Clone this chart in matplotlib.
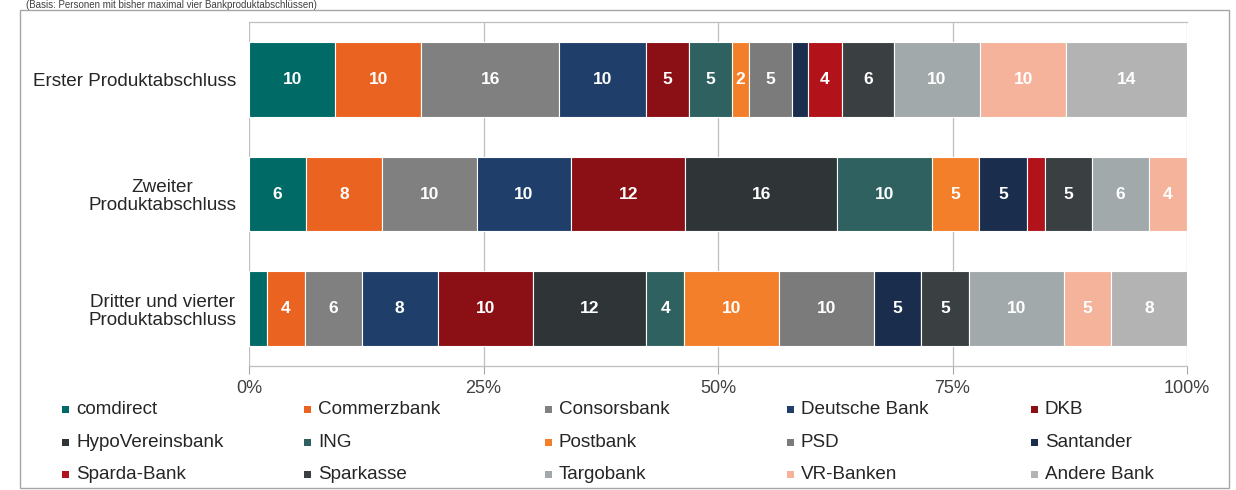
import matplotlib
matplotlib.use("Agg")
import matplotlib.pyplot as plt
from matplotlib.patches import Rectangle
import numpy as np

plt.rcParams['font.family'] = ['Liberation Sans', 'DejaVu Sans']

categories = ["Erster Produktabschluss", "Zweiter\nProduktabschluss",
              "Dritter und vierter\nProduktabschluss"]
banks = ["comdirect", "Commerzbank", "Consorsbank", "Deutsche Bank", "DKB",
         "HypoVereinsbank", "ING", "Postbank", "PSD", "Santander",
         "Sparda-Bank", "Sparkasse", "Targobank", "VR-Banken", "Andere Bank"]
erster = [10, 10, 16, 10, 5, 0, 5, 2, 5, 1.8, 4, 6, 10, 10, 14]
zweiter = [6, 8, 10, 10, 12, 16, 10, 5, 0, 5, 1.9, 5, 6, 4, 0]
dritter = [1.9, 4, 6, 8, 10, 12, 4, 10, 10, 5, 0, 5, 10, 5, 8]
xticks = [0, 25, 50, 75, 100]
xtick_labels = ["0%", "25%", "50%", "75%", "100%"]
header = "(Basis: Personen mit bisher maximal vier Bankproduktabschlüssen)"

colors = ["#006A66", "#EB6320", "#808080", "#1F3F6A", "#8A1016",
          "#2F3437", "#2E615F", "#F47F2A", "#7B7B7B", "#1A2D4C",
          "#B2121A", "#3A4042", "#A2A9AB", "#F5B39B", "#B3B3B3"]

W, H = 1236, 490
fig = plt.figure(figsize=(W / 100, H / 100), dpi=100)

def fx(px):
    return px / W

def fy(py):
    return 1 - py / H

ax = fig.add_axes([fx(249), fy(366), fx(938), (366 - 22) / H])

data = np.array([erster, zweiter, dritter], dtype=float)
shares = data / data.sum(axis=1, keepdims=True) * 100
ypos = np.arange(len(categories))
left = np.zeros(len(categories))
for j, bank in enumerate(banks):
    vals = shares[:, j]
    cont = ax.barh(ypos, vals, left=left, height=0.65, color=colors[j],
                   edgecolor="white", linewidth=0.8, zorder=3, label=bank)
    labels = [f"{v:g}" if v >= 2 else "" for v in data[:, j]]
    ax.bar_label(cont, labels=labels, label_type="center", color="white",
                 fontsize=12.5, fontweight="bold", zorder=4)
    left += vals

ax.set_xlim(0, 100)
ax.set_ylim(2.5, -0.5)
ax.set_xticks(xticks)
ax.set_xticklabels(xtick_labels, fontsize=13, color="#404040")
ax.set_yticks(ypos)
ax.set_yticklabels(categories, fontsize=13.6, color="#262626",
                   multialignment="center", linespacing=1.1)
ax.tick_params(axis="y", length=0, pad=9)
ax.tick_params(axis="x", length=6, width=0.8, color="#A6A6A6", pad=4)
ax.grid(axis="x", color="#BFBFBF", linewidth=0.9, zorder=0)
for s in ["left", "right"]:
    ax.spines[s].set_visible(False)
for s in ["top", "bottom"]:
    ax.spines[s].set_color("#BFBFBF")
    ax.spines[s].set_linewidth(0.9)

# legend (row-wise, 5 columns)
col_x = [65, 307, 548, 790, 1034]
row_y = [409, 442, 474]
for i, bank in enumerate(banks):
    r, c = divmod(i, 5)
    x0, y0 = col_x[c], row_y[r]
    fig.add_artist(Rectangle((fx(x0 - 3.5), fy(y0 + 3.5)), 7 / W, 7 / H,
                             transform=fig.transFigure, color=colors[i],
                             linewidth=0))
    fig.text(fx(x0 + 11), fy(y0), bank, fontsize=13.6, color="#262626",
             va="center", ha="left")

# outer frame
fig.add_artist(Rectangle((fx(20), fy(488)), (1229 - 20) / W, (488 - 10) / H,
                         transform=fig.transFigure, fill=False,
                         edgecolor="#A6A6A6", linewidth=1))
fig.text(fx(26), fy(0.5), header, fontsize=7, color="#404040",
         va="top", ha="left")

fig.savefig("out.png", dpi=100)
